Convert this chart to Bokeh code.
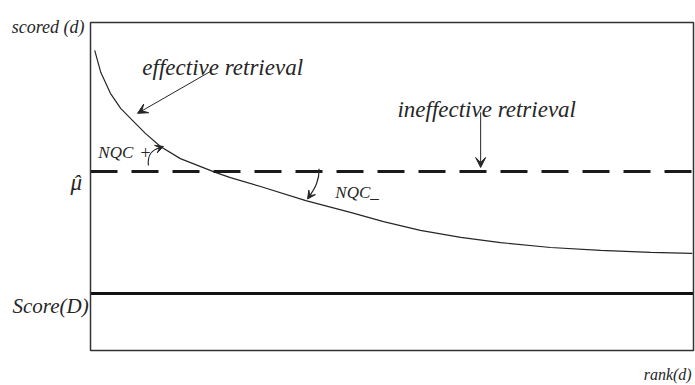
from bokeh.plotting import figure
from bokeh.models import Label, Arrow, VeeHead, Range1d, BoxAnnotation
from bokeh.embed import file_html
from bokeh.resources import INLINE

# ---- data (rank(d) in % of list, score in % of plot height) ----
rank = [0.7, 1.7, 3.3, 5.0, 7.0, 9.1, 11.6, 14.9, 20.7, 23.2, 28.2,
        35.7, 43.1, 48.6, 54.7, 61.4, 68.0, 76.3, 84.6, 92.9, 99.8]
score = [91.5, 84.8, 78.4, 73.8, 70.1, 66.2, 62.2, 58.5, 54.3, 52.7, 50.0,
         45.7, 42.1, 39.3, 36.6, 34.5, 32.9, 31.4, 30.5, 29.9, 29.6]
mu_hat = 54.6        # mean score of top-k list
score_D = 17.4       # corpus score Score(D)
x_lo, x_hi = 0, 100  # extent of the drawn plot box
y_lo, y_hi = 0, 100

FONT = "Liberation Serif"
INK = "#262626"

W, H = 695, 385
BL, BT, BR, BB = 90, 22, 2, 35      # box margins inside the canvas (px)
bw, bh = W - BL - BR, H - BT - BB
p = figure(width=W, height=H, output_backend="svg", toolbar_location=None,
           x_axis_type=None, y_axis_type=None,
           x_range=Range1d(-BL / bw * 100, 100 + BR / bw * 100),
           y_range=Range1d(-BB / bh * 100, 100 + BT / bh * 100))
p.min_border = 0
p.grid.visible = False
p.outline_line_color = None
p.background_fill_color = "white"
p.border_fill_color = "white"

# plot box
p.add_layout(BoxAnnotation(left=x_lo, right=x_hi, bottom=y_lo, top=y_hi,
                           fill_alpha=0, line_color="#333333", line_alpha=1.0,
                           line_width=1.5))

# curve
p.line(rank, score, line_color=INK, line_width=1.2)

# reference lines
p.segment(x0=[x_lo], x1=[x_hi], y0=[mu_hat], y1=[mu_hat], line_color="#1a1a1a",
          line_width=3, line_dash="27 14")
p.segment(x0=[x_lo], x1=[x_hi], y0=[score_D], y1=[score_D], line_color="#111111",
          line_width=3)

def lab(x, y, t, size, align="left", base="alphabetic"):
    p.add_layout(Label(x=x, y=y, text=t, text_font=FONT, text_font_style="italic",
                       text_font_size=size, text_color=INK, text_align=align,
                       text_baseline=base))

lab(-1.0, 98.5, "scored (d)", "18px", align="right")
lab(-1.4, 51.3, "\u03bc", "23px", align="right")
lab(-2.3, 51.3, "\u02c6", "22px", align="center")
lab(-0.3, 13.7, "Score(D)", "21px", align="right")
lab(99.7, -7.4, "rank(d)", "16px", align="right")
lab(8.6, 86.4, "effective retrieval", "23px")
lab(50.9, 73.4, "ineffective retrieval", "23px")
lab(1.3, 60.4, "NQC", "17px")
lab(9.1, 60.4, "+", "18px", align="center", base="middle")
lab(40.6, 48.2, "NQC_", "17px")

# straight arrows
p.add_layout(Arrow(x_start=20.2, y_start=85.4, x_end=7.8, y_end=72.3,
                   line_color=INK, line_width=1,
                   end=VeeHead(size=10, fill_color=INK, line_color=INK, line_width=1)))
p.add_layout(Arrow(x_start=64.7, y_start=72.6, x_end=64.7, y_end=55.8,
                   line_color=INK, line_width=1,
                   end=VeeHead(size=10, fill_color=INK, line_color=INK, line_width=1)))

# small curved arrows (NQC+ and NQC-)
p.bezier(x0=[9.6], y0=[56.4], x1=[11.5], y1=[61.8], cx0=[9.4], cy0=[60.0],
         cx1=[10.3], cy1=[61.2], line_color=INK, line_width=1.2)
p.add_layout(Arrow(x_start=11.0, y_start=61.5, x_end=12.1, y_end=62.2,
                   line_color=INK, line_width=1,
                   end=VeeHead(size=8, fill_color=INK, line_color=INK, line_width=1)))
p.bezier(x0=[37.9], y0=[55.4], x1=[36.3], y1=[47.0], cx0=[38.0], cy0=[51.5],
         cx1=[37.0], cy1=[49.0], line_color=INK, line_width=1.2)
p.add_layout(Arrow(x_start=36.6, y_start=47.8, x_end=36.0, y_end=46.2,
                   line_color=INK, line_width=1,
                   end=VeeHead(size=8, fill_color=INK, line_color=INK, line_width=1)))

open("out.html", "w").write(file_html(p, INLINE))
